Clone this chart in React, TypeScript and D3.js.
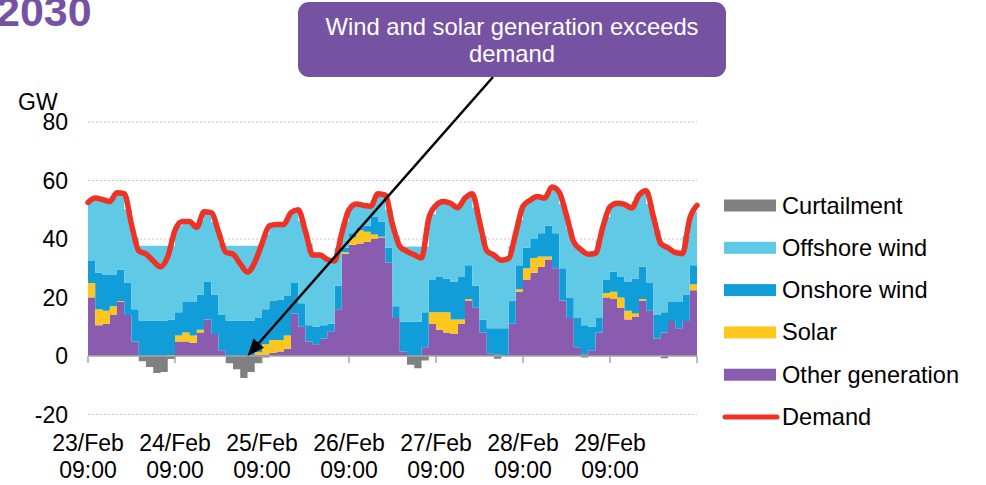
import * as d3 from 'd3'
import React from 'react'

const startTime = Date.UTC(2016, 1, 23, 9)
const hoursPerStep = 2
const days = 7

const otherGeneration = [
    20, 10.5, 11, 14, 18.5, 14, 5, 0, 0, 0, 0, 0,
    5, 5, 4.5, 8, 12.5, 7.5, 2, 0, 0, 0, 0, 0.3,
    0.5, 1, 1.5, 2.5, 14.5, 10, 5, 4, 6, 8.5, 16, 35,
    38, 38.5, 39, 40, 40.5, 32, 13, 1.5, 0, 0, 3, 11,
    9, 8, 7.5, 11, 19, 16.5, 8, 0.8, 0.4, 0.3, 11, 22,
    26, 28.5, 30.5, 33, 30, 19, 13, 3, 0.6, 2, 8, 20,
    19.5, 16.5, 12.5, 13.5, 19, 15.5, 6, 8, 12, 9.5, 12, 22.5,
]
const solar = [
    5, 5.5, 4.5, 3, 0.3, 0, 0, 0, 0, 0, 0, 0.3,
    2, 3, 2.5, 1, 0, 0, 0, 0, 0, 0, 0, 1,
    3.5, 4.5, 4, 4.5, 0, 0, 0, 0, 0, 0, 0, 0.5,
    2.5, 4.5, 3.5, 1.5, 0.3, 0, 0, 0, 0, 0, 0, 4,
    6, 7, 5, 1.5, 0.5, 0, 0, 0, 0, 0, 0, 0.8,
    4, 5, 3.5, 1, 0, 0, 0, 0, 0, 0, 0, 1.5,
    2.5, 3.5, 3, 1, 0.5, 0, 0, 0, 0, 0, 0, 2,
]
const onshoreWind = [
    7.5, 12.5, 12.2, 10.7, 10.7, 11, 11, 12.1, 12.1, 12.1, 12.1, 12.2,
    8, 10.5, 11.5, 12, 13, 13.5, 12, 12.1, 12.1, 12.1, 12.1, 11.7,
    12, 13.3, 13.7, 13.5, 10.5, 8, 5.5, 6, 4.5, 2.5, 8, 1.5,
    1.5, 1, 2, 6, 5.2, 5, 4, 10.2, 11.7, 11.7, 12, 11,
    12, 11.5, 12.9, 14.5, 11.5, 7.5, 4.5, 8.7, 9.1, 9.2, 8, 8.2,
    7, 6.5, 8, 10.5, 12, 11, 7, 10, 9.9, 8, 5, 4.5,
    6.8, 7, 10, 12, 11, 9.5, 8, 7, 6.5, 9, 9, 6.5,
]
const offshoreWind = [
    20.8, 25.3, 25.5, 26.6, 26.1, 25.2, 24.5, 25.6, 25.6, 25.6, 25.6, 25.2,
    29.5, 27.5, 26.5, 25.6, 23.7, 24.8, 24.5, 25.6, 25.6, 25.6, 25.6, 24.7,
    25.5, 25.9, 25.8, 26.5, 24.5, 28.2, 28, 24.5, 23.2, 21.8, 13, 9,
    9, 7.8, 6.9, 5.8, 9.3, 13, 24.2, 25.7, 25.7, 25.7, 22.4, 22.5,
    25.1, 26, 26.1, 25.3, 23.8, 26.8, 28.5, 25.7, 24.1, 23.5, 18.6, 15.6,
    15.2, 13.9, 12.2, 11.4, 14.9, 22, 23.5, 24.7, 25.1, 25, 26.5, 21.5,
    22.8, 25, 25.7, 26.3, 25.3, 27, 29, 22.8, 17.7, 16.7, 20, 18.3,
]
const curtailment = [
    0, 0, 0, 0, 0, 0, 0, -1.8, -3.8, -5.8, -5.5, -1,
    0, 0, 0, 0, 0, 0, 0, -2.5, -4.5, -7.5, -5.5, -2.5,
    -0.5, 0, 0, 0, 0, 0, 0, 0, 0, 0, 0, 0,
    0, 0, 0, 0, 0, 0, 0, 0, -3, -4.2, -1.5, 0,
    0, 0, 0, 0, 0, 0, 0, 0, -0.9, 0, 0, 0,
    0, 0, 0, 0, 0, 0, 0, 0, -0.5, 0, 0, 0,
    0, 0, 0, 0, 0, 0, 0, -0.8, 0, 0, 0, 0,
]
// demand at every step boundary (85 points)
const demand = [
    52.5, 54, 53.5, 52.8, 55.8, 55.5, 45, 36, 34.9, 32.5, 30.5, 34,
    43, 46, 46, 44, 49.3, 49, 42.5, 35.5, 34.8, 31.5, 28.7, 32,
    38.5, 44.5, 45, 45, 49, 50, 42.5, 34.5, 34.5, 33, 32.5, 42,
    50, 52, 51.5, 51.2, 55.5, 55, 45, 37.5, 35.8, 34.6, 33.5, 47,
    51.5, 52.8, 52.2, 50.7, 54, 55.5, 46, 36, 34.5, 32.7, 33.3, 42,
    51.2, 53.3, 54.5, 54, 57.8, 56, 48, 39, 36.4, 34.8, 35.1, 44,
    51, 52.2, 51.8, 50.6, 55, 56.5, 47.5, 38.5, 37, 35.4, 35, 47,
    51.5,
]
const yTicks = [-20, 0, 20, 40, 60, 80]
const seriesKeys = ['other', 'solar', 'onshore', 'offshore']
const seriesColors = {
    other: '#8A5CAF',
    solar: '#FFC61E',
    onshore: '#109DD8',
    offshore: '#5FC9E6',
}
const legendItems = [
    { label: 'Curtailment', color: '#808080', line: false },
    { label: 'Offshore wind', color: '#5FC9E6', line: false },
    { label: 'Onshore wind', color: '#109DD8', line: false },
    { label: 'Solar', color: '#FFC61E', line: false },
    { label: 'Other generation', color: '#8A5CAF', line: false },
    { label: 'Demand', color: '#EE3224', line: true },
]
const calloutLines = ['Wind and solar generation exceeds', 'demand']
const callOutHour = 44

const FONT = '"Liberation Sans", Arial, Helvetica, sans-serif'
const PURPLE = '#7652A2'

const App = (): JSX.Element => {
    const width = 986
    const height = 485
    const hour = 3600 * 1000
    const toDate = (h: number) => new Date(startTime + h * hour)

    const x = d3
        .scaleUtc()
        .domain([toDate(0), toDate(days * 24)])
        .range([88, 697])
    const y = d3.scaleLinear().domain([-20, 80]).range([414.5, 122])

    // rows for step areas, last row repeated so the final step has width
    const rows = otherGeneration.map((v, i) => ({
        date: toDate(i * hoursPerStep),
        other: v,
        solar: solar[i],
        onshore: onshoreWind[i],
        offshore: offshoreWind[i],
        curtailment: curtailment[i],
    }))
    const last = rows[rows.length - 1]
    rows.push({ ...last, date: toDate(rows.length * hoursPerStep) })

    const stacked = d3.stack().keys(seriesKeys)(rows as any)

    const area = d3
        .area<any>()
        .x((d) => x(d.data.date))
        .y0((d) => y(d[0]))
        .y1((d) => y(d[1]))
        .curve(d3.curveStepAfter)

    const curtailArea = d3
        .area<any>()
        .x((d) => x(d.date))
        .y0(y(0))
        .y1((d) => y(d.curtailment))
        .curve(d3.curveStepAfter)

    const demandLine = d3
        .line<number>()
        .x((d, i) => x(toDate(i * hoursPerStep)))
        .y((d) => y(d))
        .curve(d3.curveMonotoneX)

    const dayTicks = d3.range(days + 1).map((d) => toDate(d * 24))
    const fmtDay = d3.utcFormat('%d/%b')
    const fmtTime = d3.utcFormat('%H:%M')

    // annotation arrow
    const arrowStart = [493, 77]
    const arrowTip = [x(toDate(callOutHour)), y(0)]
    const dx = arrowTip[0] - arrowStart[0]
    const dy = arrowTip[1] - arrowStart[1]
    const len = Math.sqrt(dx * dx + dy * dy)
    const ux = dx / len
    const uy = dy / len
    const headLen = 17
    const headHalf = 7
    const baseX = arrowTip[0] - ux * headLen
    const baseY = arrowTip[1] - uy * headLen
    const head = [
        [arrowTip[0], arrowTip[1]],
        [baseX - uy * headHalf, baseY + ux * headHalf],
        [baseX + uy * headHalf, baseY - ux * headHalf],
    ]

    return (
        <svg
            width={width}
            height={height}
            style={{ position: 'absolute', left: 0, top: 0, background: '#fff' }}
            fontFamily={FONT}
        >
            <text x={-4} y={26} fontSize={43} fontWeight="bold" fill={PURPLE}>
                2030
            </text>

            {/* grid */}
            {yTicks
                .filter((t) => t !== 0)
                .map((t) => (
                    <line
                        key={`g${t}`}
                        x1={x.range()[0]}
                        x2={x.range()[1]}
                        y1={y(t)}
                        y2={y(t)}
                        stroke="#C6C6C6"
                        strokeDasharray="2,2"
                    />
                ))}

            {stacked.map((s) => (
                <path key={s.key} d={area(s) as string} fill={seriesColors[s.key]} />
            ))}
            <path d={curtailArea(rows) as string} fill="#808080" />

            {/* x axis */}
            <line x1={x.range()[0]} x2={x.range()[1]} y1={y(0)} y2={y(0)} stroke="#A6A6A6" strokeWidth={1.5} />
            {dayTicks.map((d, i) => (
                <g key={`t${i}`}>
                    <line x1={x(d)} x2={x(d)} y1={y(0)} y2={y(0) + 7} stroke="#A6A6A6" strokeWidth={1.5} />
                    {i < days && (
                        <text x={x(d)} textAnchor="middle" fontSize={23} fill="#000">
                            <tspan x={x(d)} y={451}>
                                {fmtDay(d)}
                            </tspan>
                            <tspan x={x(d)} y={478}>
                                {fmtTime(d)}
                            </tspan>
                        </text>
                    )}
                </g>
            ))}

            {/* y labels */}
            {yTicks.map((t) => (
                <text key={`y${t}`} x={68} y={y(t) + 8} textAnchor="end" fontSize={23} fill="#000">
                    {t}
                </text>
            ))}
            <text x={18} y={110} fontSize={23} fill="#000">
                GW
            </text>

            <path
                d={demandLine(demand) as string}
                fill="none"
                stroke="#EE3224"
                strokeWidth={5.5}
                strokeLinejoin="round"
                strokeLinecap="round"
            />

            {/* callout */}
            <line
                x1={arrowStart[0]}
                y1={arrowStart[1]}
                x2={baseX}
                y2={baseY}
                stroke="#000"
                strokeWidth={2.5}
            />
            <polygon points={head.map((p) => p.join(',')).join(' ')} fill="#000" />
            <rect x={298} y={2} width={428} height={75} rx={11} fill={PURPLE} />
            {calloutLines.map((t, i) => (
                <text key={t} x={512} y={35 + i * 27} textAnchor="middle" fontSize={23.8} fill="#fff">
                    {t}
                </text>
            ))}

            {/* legend */}
            {legendItems.map((item, i) => {
                const cy = 205.5 + i * 42.3
                return (
                    <g key={item.label}>
                        {item.line ? (
                            <line
                                x1={725}
                                x2={777}
                                y1={cy}
                                y2={cy}
                                stroke={item.color}
                                strokeWidth={5}
                                strokeLinecap="round"
                            />
                        ) : (
                            <rect x={724} y={cy - 6} width={52} height={12} fill={item.color} />
                        )}
                        <text x={782} y={cy + 8} fontSize={23.6} fill="#000">
                            {item.label}
                        </text>
                    </g>
                )
            })}
        </svg>
    )
}

export default App
